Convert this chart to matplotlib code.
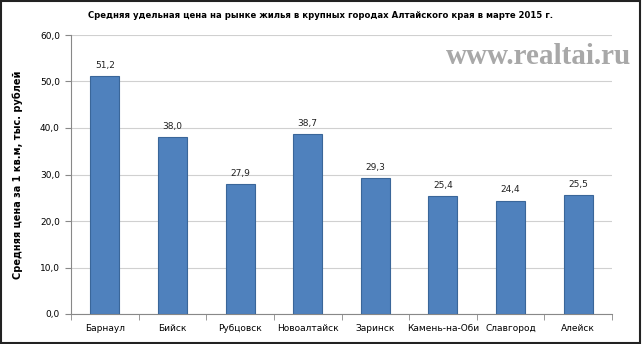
import matplotlib
matplotlib.use("Agg")
import matplotlib.pyplot as plt
from matplotlib.patches import Rectangle
import numpy as np

cities = ["Барнаул", "Бийск", "Рубцовск", "Новоалтайск", "Заринск",
          "Камень-на-Оби", "Славгород", "Алейск"]
prices = [51.2, 38.0, 27.9, 38.7, 29.3, 25.4, 24.4, 25.5]
yticks = [0, 10, 20, 30, 40, 50, 60]

plt.rcParams['font.family'] = ['DejaVu Sans']

fig = plt.figure(figsize=(6.42, 3.44), dpi=100)
ax = fig.add_axes([71/642, 1 - 314/344, (612-71)/642, (314-35)/344])

x = np.arange(len(cities))
ax.bar(x, prices, width=0.43, color="#4F81BD", edgecolor="#3A6699", linewidth=0.8, zorder=3)
for xi, v in zip(x, prices):
    ax.text(xi, v + 1.3, f"{v:.1f}".replace(".", ","), ha="center", va="bottom",
            fontsize=6.5, color="#222222")

ax.set_xlim(-0.5, len(cities) - 0.5)
ax.set_ylim(0, 60)
ax.set_yticks(yticks)
ax.set_yticklabels([f"{t:.1f}".replace(".", ",") for t in yticks], fontsize=6.5)
ax.set_xticks(x)
ax.set_xticklabels(cities, fontsize=6.5)
ax.tick_params(axis="x", length=0, pad=7)
ax.set_xticks(np.arange(-0.5, len(cities), 1), minor=True)
ax.tick_params(axis="x", which="minor", length=4, color="#888888")
ax.tick_params(axis="y", length=4, color="#888888", pad=4)
ax.yaxis.grid(True, color="#D0D0D0", linewidth=0.8, zorder=0)
for s in ["top", "right"]:
    ax.spines[s].set_visible(False)
ax.spines["left"].set_color("#888888")
ax.spines["bottom"].set_color("#888888")

ax.set_ylabel("Средняя цена за 1 кв.м, тыс. рублей", fontsize=7, fontweight="bold", labelpad=12)

fig.text(0.5, 1 - 16/344, "Средняя удельная цена на рынке жилья в крупных городах Алтайского края в марте 2015 г.",
         ha="center", va="center", fontsize=6.1, fontweight="bold")

fig.text(538/642, 1 - 57/344, "www.realtai.ru", ha="center", va="center",
         fontsize=21, family="Liberation Serif", fontweight="bold", color="#A8A8A8")

fig.patches.append(Rectangle((0.002, 0.004), 0.995, 0.993, transform=fig.transFigure,
                             fill=False, edgecolor="#222222", linewidth=1.5))

fig.savefig("out.png", dpi=100)
